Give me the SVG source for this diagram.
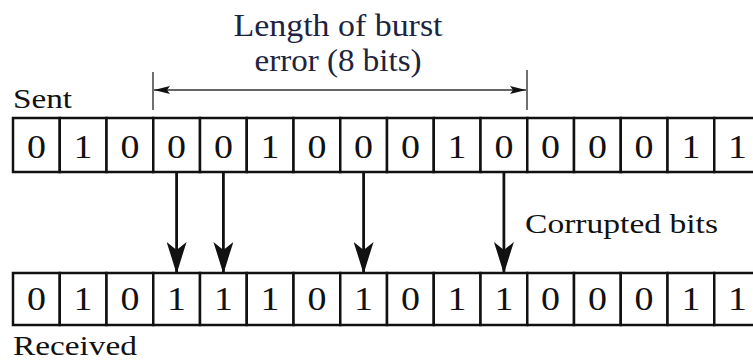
<svg xmlns="http://www.w3.org/2000/svg" width="753" height="361" viewBox="0 0 753 361">
<defs>
<style>
.cell{fill:#fff;stroke:#111;stroke-width:2.5}
.bit{font-family:"Liberation Serif","Times New Roman",serif;font-size:33px;fill:#111;text-anchor:middle}
.lbl{font-family:"Liberation Serif","Times New Roman",serif;font-size:28px;fill:#111}
.title{font-family:"Liberation Serif","Times New Roman",serif;font-size:31px;fill:#1d2440;text-anchor:middle}
.ln{stroke:#111;stroke-width:2.8;fill:none}
.dim{stroke:#333;stroke-width:1.4;fill:none}
</style>
<marker id="ah" viewBox="0 0 32 20" refX="31" refY="10" markerWidth="32" markerHeight="20" markerUnits="userSpaceOnUse" orient="auto"><path d="M0,0 Q17,5.5 32,10 Q17,14.5 0,20 L8,10 Z" fill="#111"/></marker>
<marker id="dh" viewBox="0 0 16 8" refX="16" refY="4" markerWidth="16" markerHeight="8" markerUnits="userSpaceOnUse" orient="auto-start-reverse"><path d="M0,0 L16,4 L0,8 L3,4 Z" fill="#111"/></marker>
</defs>
<rect width="753" height="361" fill="#fff"/>
<g id="title">
<text class="title" x="338" y="36" textLength="209" lengthAdjust="spacingAndGlyphs">Length of burst</text>
<text class="title" x="338" y="71" textLength="167" lengthAdjust="spacingAndGlyphs">error (8 bits)</text>
</g>
<g id="burst-marker">
<line class="dim" x1="153" y1="72" x2="153" y2="110"/>
<line class="dim" x1="527" y1="70" x2="527" y2="110"/>
<line class="dim" x1="154" y1="90" x2="526" y2="90" marker-start="url(#dh)" marker-end="url(#dh)"/>
</g>
<g id="sent-label"><text class="lbl" x="13" y="108" textLength="59" lengthAdjust="spacingAndGlyphs">Sent</text></g>
<g id="sent">
<rect class="cell" x="13" y="118" width="46.75" height="54"/>
<rect class="cell" x="59.75" y="118" width="46.75" height="54"/>
<rect class="cell" x="106.5" y="118" width="46.75" height="54"/>
<rect class="cell" x="153.25" y="118" width="46.75" height="54"/>
<rect class="cell" x="200" y="118" width="46.75" height="54"/>
<rect class="cell" x="246.75" y="118" width="46.75" height="54"/>
<rect class="cell" x="293.5" y="118" width="46.75" height="54"/>
<rect class="cell" x="340.25" y="118" width="46.75" height="54"/>
<rect class="cell" x="387" y="118" width="46.75" height="54"/>
<rect class="cell" x="433.75" y="118" width="46.75" height="54"/>
<rect class="cell" x="480.5" y="118" width="46.75" height="54"/>
<rect class="cell" x="527.25" y="118" width="46.75" height="54"/>
<rect class="cell" x="574" y="118" width="46.75" height="54"/>
<rect class="cell" x="620.75" y="118" width="46.75" height="54"/>
<rect class="cell" x="667.5" y="118" width="46.75" height="54"/>
<rect class="cell" x="714.25" y="118" width="46.75" height="54"/>
<text class="bit" transform="translate(36.4,157.5) scale(1.15,1)">0</text>
<text class="bit" transform="translate(83.1,157.5) scale(1.15,1)">1</text>
<text class="bit" transform="translate(129.9,157.5) scale(1.15,1)">0</text>
<text class="bit" transform="translate(176.6,157.5) scale(1.15,1)">0</text>
<text class="bit" transform="translate(223.4,157.5) scale(1.15,1)">0</text>
<text class="bit" transform="translate(270.1,157.5) scale(1.15,1)">1</text>
<text class="bit" transform="translate(316.9,157.5) scale(1.15,1)">0</text>
<text class="bit" transform="translate(363.6,157.5) scale(1.15,1)">0</text>
<text class="bit" transform="translate(410.4,157.5) scale(1.15,1)">0</text>
<text class="bit" transform="translate(457.1,157.5) scale(1.15,1)">1</text>
<text class="bit" transform="translate(503.9,157.5) scale(1.15,1)">0</text>
<text class="bit" transform="translate(550.6,157.5) scale(1.15,1)">0</text>
<text class="bit" transform="translate(597.4,157.5) scale(1.15,1)">0</text>
<text class="bit" transform="translate(644.1,157.5) scale(1.15,1)">0</text>
<text class="bit" transform="translate(690.9,157.5) scale(1.15,1)">1</text>
<text class="bit" transform="translate(737.6,157.5) scale(1.15,1)">1</text>
</g>
<g id="connectors">
<line class="ln" x1="176.6" y1="172" x2="176.6" y2="273" marker-end="url(#ah)"/>
<line class="ln" x1="223.4" y1="172" x2="223.4" y2="273" marker-end="url(#ah)"/>
<line class="ln" x1="363.6" y1="172" x2="363.6" y2="273" marker-end="url(#ah)"/>
<line class="ln" x1="503.9" y1="172" x2="503.9" y2="273" marker-end="url(#ah)"/>
</g>
<g id="corrupted-label"><text class="lbl" x="525" y="233" textLength="193" lengthAdjust="spacingAndGlyphs">Corrupted bits</text></g>
<g id="received">
<rect class="cell" x="13" y="273" width="46.75" height="52"/>
<rect class="cell" x="59.75" y="273" width="46.75" height="52"/>
<rect class="cell" x="106.5" y="273" width="46.75" height="52"/>
<rect class="cell" x="153.25" y="273" width="46.75" height="52"/>
<rect class="cell" x="200" y="273" width="46.75" height="52"/>
<rect class="cell" x="246.75" y="273" width="46.75" height="52"/>
<rect class="cell" x="293.5" y="273" width="46.75" height="52"/>
<rect class="cell" x="340.25" y="273" width="46.75" height="52"/>
<rect class="cell" x="387" y="273" width="46.75" height="52"/>
<rect class="cell" x="433.75" y="273" width="46.75" height="52"/>
<rect class="cell" x="480.5" y="273" width="46.75" height="52"/>
<rect class="cell" x="527.25" y="273" width="46.75" height="52"/>
<rect class="cell" x="574" y="273" width="46.75" height="52"/>
<rect class="cell" x="620.75" y="273" width="46.75" height="52"/>
<rect class="cell" x="667.5" y="273" width="46.75" height="52"/>
<rect class="cell" x="714.25" y="273" width="46.75" height="52"/>
<text class="bit" transform="translate(36.4,310) scale(1.15,1)">0</text>
<text class="bit" transform="translate(83.1,310) scale(1.15,1)">1</text>
<text class="bit" transform="translate(129.9,310) scale(1.15,1)">0</text>
<text class="bit" transform="translate(176.6,310) scale(1.15,1)">1</text>
<text class="bit" transform="translate(223.4,310) scale(1.15,1)">1</text>
<text class="bit" transform="translate(270.1,310) scale(1.15,1)">1</text>
<text class="bit" transform="translate(316.9,310) scale(1.15,1)">0</text>
<text class="bit" transform="translate(363.6,310) scale(1.15,1)">1</text>
<text class="bit" transform="translate(410.4,310) scale(1.15,1)">0</text>
<text class="bit" transform="translate(457.1,310) scale(1.15,1)">1</text>
<text class="bit" transform="translate(503.9,310) scale(1.15,1)">1</text>
<text class="bit" transform="translate(550.6,310) scale(1.15,1)">0</text>
<text class="bit" transform="translate(597.4,310) scale(1.15,1)">0</text>
<text class="bit" transform="translate(644.1,310) scale(1.15,1)">0</text>
<text class="bit" transform="translate(690.9,310) scale(1.15,1)">1</text>
<text class="bit" transform="translate(737.6,310) scale(1.15,1)">1</text>
</g>
<g id="received-label"><text class="lbl" x="13" y="355" font-size="26" textLength="124" lengthAdjust="spacingAndGlyphs">Received</text></g>
</svg>
